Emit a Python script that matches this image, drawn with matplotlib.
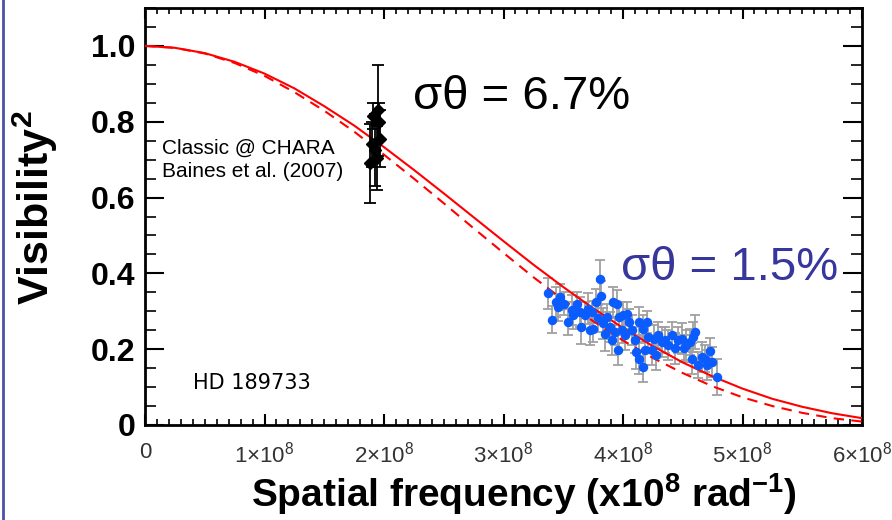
import matplotlib
matplotlib.use("Agg")
import matplotlib.pyplot as plt
from matplotlib.lines import Line2D
from matplotlib.ticker import MultipleLocator

plt.rcParams['mathtext.fontset'] = 'custom'
plt.rcParams['mathtext.rm'] = 'Liberation Sans'
plt.rcParams['mathtext.bf'] = 'Liberation Sans:bold'

# ---- data (spatial frequency in units of 1e8 rad^-1) ----
model_f = [0.0, 0.25, 0.5, 0.75, 1.0, 1.25, 1.5, 1.75, 2.0, 2.25, 2.5, 2.75, 3.0,
           3.25, 3.5, 3.75, 4.0, 4.25, 4.5, 4.75, 5.0, 5.25, 5.5, 5.75, 6.0]
model_solid = [1.000, 0.995, 0.981, 0.958, 0.927, 0.888, 0.841, 0.790, 0.733, 0.673,
               0.611, 0.548, 0.485, 0.423, 0.364, 0.308, 0.256, 0.208, 0.165, 0.128,
               0.096, 0.069, 0.048, 0.031, 0.018]
model_dashed = [1.000, 0.995, 0.980, 0.955, 0.921, 0.878, 0.829, 0.774, 0.713, 0.650,
                0.585, 0.519, 0.454, 0.390, 0.330, 0.274, 0.223, 0.177, 0.137, 0.102,
                0.073, 0.050, 0.032, 0.018, 0.009]

classic_f = [1.950, 1.910, 1.970, 1.925, 1.880, 1.945, 1.960, 1.900]
classic_v2 = [0.830, 0.815, 0.755, 0.725, 0.690, 0.705, 0.800, 0.740]
classic_err = [0.120, 0.035, 0.075, 0.095, 0.105, 0.085, 0.050, 0.060]

new_f = [3.375, 3.402, 3.439, 3.473, 3.506, 3.537, 3.570, 3.583, 3.611, 3.640,
         3.648, 3.682, 3.710, 3.724, 3.751, 3.737, 3.773, 3.808, 3.816, 3.793,
         3.836, 3.864, 3.891, 3.849, 3.919, 3.953, 3.904, 3.933, 3.969, 4.003,
         4.036, 3.988, 3.960, 4.017, 4.053, 4.073, 4.100, 4.137, 4.170, 4.203,
         4.108, 4.137, 4.170, 4.184, 4.212, 4.240, 4.259, 4.276, 4.295, 4.323,
         4.351, 4.379, 4.406, 4.435, 4.462, 4.490, 4.510, 4.531, 4.561, 4.588,
         4.574, 4.630, 4.657, 4.686, 4.728, 4.699, 4.741, 4.783, 4.600, 3.460]
new_v2 = [0.347, 0.278, 0.325, 0.338, 0.320, 0.272, 0.304, 0.289, 0.320, 0.298,
          0.259, 0.289, 0.307, 0.250, 0.254, 0.298, 0.325, 0.386, 0.339, 0.281,
          0.268, 0.285, 0.259, 0.241, 0.325, 0.320, 0.224, 0.246, 0.285, 0.289,
          0.294, 0.250, 0.197, 0.237, 0.272, 0.250, 0.224, 0.272, 0.254, 0.272,
          0.193, 0.175, 0.153, 0.197, 0.232, 0.197, 0.228, 0.184, 0.237, 0.219,
          0.224, 0.211, 0.237, 0.202, 0.224, 0.228, 0.202, 0.211, 0.219, 0.232,
          0.175, 0.158, 0.180, 0.175, 0.195, 0.158, 0.166, 0.127, 0.246, 0.310]
new_err = [0.040, 0.035, 0.040, 0.035, 0.030, 0.035, 0.040, 0.035, 0.030, 0.040,
           0.045, 0.035, 0.040, 0.040, 0.035, 0.030, 0.035, 0.048, 0.040, 0.035,
           0.040, 0.035, 0.040, 0.045, 0.040, 0.035, 0.040, 0.035, 0.040, 0.035,
           0.030, 0.035, 0.040, 0.040, 0.035, 0.040, 0.035, 0.040, 0.035, 0.030,
           0.045, 0.040, 0.040, 0.040, 0.035, 0.040, 0.035, 0.040, 0.035, 0.040,
           0.035, 0.040, 0.035, 0.040, 0.035, 0.040, 0.035, 0.040, 0.035, 0.040,
           0.040, 0.035, 0.040, 0.035, 0.035, 0.040, 0.040, 0.047, 0.045, 0.035]

xtick_vals = [0, 1, 2, 3, 4, 5, 6]
xtick_labels = ['0', '1×10$^{8}$', '2×10$^{8}$', '3×10$^{8}$', '4×10$^{8}$',
                '5×10$^{8}$', '6×10$^{8}$']
ytick_vals = [0.0, 0.2, 0.4, 0.6, 0.8, 1.0]
ytick_labels = ['0', '0.2', '0.4', '0.6', '0.8', '1.0']

# ---- figure ----
fig = plt.figure(figsize=(8.92, 5.20), dpi=100)
ax = fig.add_axes([145/892, 1 - 425/520, 717/892, 417/520])
ax.set_xlim(0, 6)
ax.set_ylim(0, 1.1)

ax.plot(model_f, model_solid, color='#ff0000', lw=1.5, zorder=3)
ax.plot(model_f, model_dashed, color='#ff0000', lw=1.5, ls=(0, (5, 3.5)), zorder=3)

ax.errorbar(new_f, new_v2, yerr=new_err, fmt='none', ecolor='#a0a0a0',
            elinewidth=1.3, capsize=3.5, capthick=1.3, zorder=2)
ax.plot(new_f, new_v2, 'o', color='#0a5cff', markersize=5.8, mec='#0a5cff', zorder=4)

ax.errorbar(classic_f, classic_v2, yerr=classic_err, fmt='none', ecolor='black',
            elinewidth=1.3, capsize=4, capthick=1.3, zorder=5)
ax.plot(classic_f, classic_v2, 'D', color='black', markersize=6.5, zorder=6)

# ticks
ax.set_xticks(xtick_vals)
ax.set_xticklabels(xtick_labels, fontsize=16, color='#333333',
                   family=['Liberation Sans', 'DejaVu Sans'])
ax.xaxis.set_minor_locator(MultipleLocator(0.1))
ax.set_yticks(ytick_vals)
ax.set_yticklabels(ytick_labels, fontsize=23, fontweight='bold',
                   family=['Liberation Sans', 'DejaVu Sans'])
ax.yaxis.set_minor_locator(MultipleLocator(0.05))
ax.tick_params(axis='x', which='major', direction='in', length=8, width=1.5,
               top=True, pad=12)
ax.tick_params(axis='x', which='minor', direction='in', length=4, width=1.2, top=True)
ax.tick_params(axis='y', which='major', direction='in', length=14, width=1.5,
               right=True, pad=7)
ax.tick_params(axis='y', which='minor', direction='in', length=8, width=1.2, right=True)
for s in ax.spines.values():
    s.set_linewidth(2)

ax.set_xlabel('Spatial frequency (x10$^{\\mathbf{8}}$ rad$^{\\mathbf{-1}}$)',
              fontsize=28, fontweight='bold',
              family=['Liberation Sans', 'DejaVu Sans'], va='top')
ax.xaxis.set_label_coords((524 - 145) / 717, (425 - 471) / 417)
ax.set_ylabel('Visibility$^{\\mathbf{2}}$', fontsize=31, fontweight='bold',
              family=['Liberation Sans', 'DejaVu Sans'])
ax.yaxis.set_label_coords((60 - 145) / 717, (425 - 208) / 417)

# annotations
ax.text(2.24, 0.865, 'σθ = 6.7%', fontsize=34, color='black',
        family=['Liberation Sans', 'DejaVu Sans'], va='center', ha='left')
ax.text(3.98, 0.415, 'σθ = 1.5%', fontsize=34, color='#36369c',
        family=['Liberation Sans', 'DejaVu Sans'], va='center', ha='left')
ax.text(0.14, 0.70, 'Classic @ CHARA\nBaines et al. (2007)', fontsize=15,
        color='black', family=['Liberation Sans', 'DejaVu Sans'], va='center',
        ha='left', linespacing=1.25)
ax.text(0.40, 0.11, 'HD 189733', fontsize=15, color='black',
        family=['DejaVu Sans'], va='center', ha='left')

fig.add_artist(Line2D([0.003, 0.003], [0, 1], transform=fig.transFigure,
                      color='#4a52a8', lw=2))

fig.savefig('out.png', dpi=100)
